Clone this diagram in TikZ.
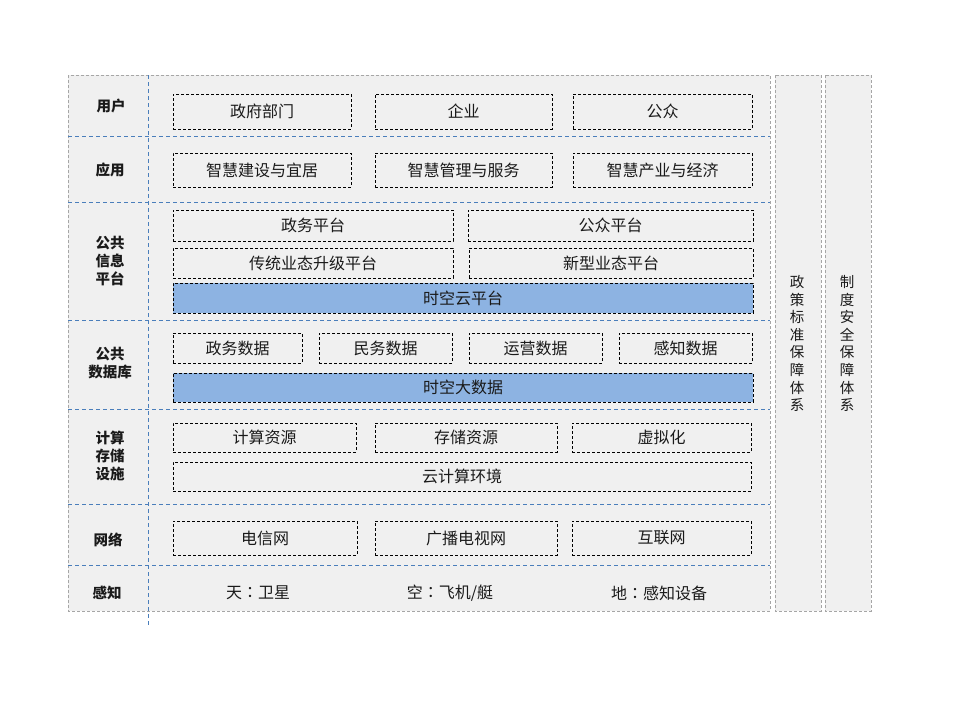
\documentclass[tikz,border=0pt]{standalone}
\usepackage{fontspec}
\setmainfont{Noto Sans CJK SC}
\newfontfamily\tcfont{Noto Sans CJK TC}
\definecolor{panelgray}{HTML}{F0F0F0}
\definecolor{bordergray}{HTML}{A6A6A6}
\definecolor{sepblue}{HTML}{4A7EBB}
\definecolor{bluefill}{HTML}{8DB3E2}
\definecolor{txt}{HTML}{1A1A1A}
\newcommand{\ccolon}{{\tcfont ：}}
\begin{document}
\begin{tikzpicture}[x=1pt,y=-1pt,
  panel/.style={fill=panelgray,draw=bordergray,line width=0.8pt,dash pattern=on 3pt off 2pt},
  sep/.style={draw=sepblue,line width=0.8pt,dash pattern=on 4pt off 3pt},
  box/.style={draw=black,line width=0.8pt,dash pattern=on 3pt off 2pt,inner sep=0pt,
    text=txt,font=\fontsize{16}{18}\selectfont},
  bluebox/.style={box,fill=bluefill},
  lab/.style={inner sep=0pt,align=center,text=txt,font=\fontsize{14.5}{18}\selectfont\bfseries},
  vlab/.style={inner sep=0pt,align=center,text=txt,font=\fontsize{14.5}{17.6}\selectfont},
  plain/.style={inner sep=0pt,text=txt,font=\fontsize{16}{18}\selectfont}]
\useasboundingbox (0,0) rectangle (960,720);
% panels
\path[panel] (68,75) rectangle (770,611);
\path[panel] (775,75) rectangle (821,611);
\path[panel] (825,75) rectangle (871,611);
% separators
\foreach \yy in {136,202,320,409,504,565} \draw[sep] (68,\yy) -- (770,\yy);
\coordinate (vt) at (148,75);
\coordinate (vb) at (148,627);
\draw[sep] (vt) -- (vb);
% left labels
\node[lab] (lu) at (111,106) {用户};
\node[lab] (la) at (110,170) {应用};
\node[lab] (lp) at (110,261) {公共\\信息\\平台};
\node[lab] (ld) at (110,363) {公共\\数据库};
\node[lab] (lc) at (110,456) {计算\\存储\\设施};
\node[lab] (ln) at (108,540) {网络};
\node[lab] (ls) at (107,593) {感知};
% users
\node[box,minimum width=178pt,minimum height=35pt] (u1) at (262,111.5) {政府部门};
\node[box,minimum width=177pt,minimum height=35pt] (u2) at (463.5,111.5) {企业};
\node[box,minimum width=179pt,minimum height=35pt] (u3) at (662.5,111.5) {公众};
% applications
\node[box,minimum width=178pt,minimum height=34pt] (a1) at (262,170) {智慧建设与宜居};
\node[box,minimum width=177pt,minimum height=34pt] (a2) at (463.5,170) {智慧管理与服务};
\node[box,minimum width=179pt,minimum height=34pt] (a3) at (662.5,170) {智慧产业与经济};
% platform
\node[box,minimum width=280pt,minimum height=31pt] (p1) at (313,225.5) {政务平台};
\node[box,minimum width=285pt,minimum height=31pt] (p2) at (610.5,225.5) {公众平台};
\node[box,minimum width=280pt,minimum height=30pt] (p3) at (313,263) {传统业态升级平台};
\node[box,minimum width=284pt,minimum height=30pt] (p4) at (611,263) {新型业态平台};
\node[bluebox,minimum width=580pt,minimum height=30pt] (p5) at (463,298) {时空云平台};
% data
\node[box,minimum width=129pt,minimum height=30pt] (d1) at (237.5,348) {政务数据};
\node[box,minimum width=133pt,minimum height=30pt] (d2) at (385.5,348) {民务数据};
\node[box,minimum width=133pt,minimum height=30pt] (d3) at (535.5,348) {运营数据};
\node[box,minimum width=133pt,minimum height=30pt] (d4) at (685.5,348) {感知数据};
\node[bluebox,minimum width=580pt,minimum height=29pt] (d5) at (463,387.5) {时空大数据};
% compute
\node[box,minimum width=183pt,minimum height=29pt] (c1) at (264.5,437.5) {计算资源};
\node[box,minimum width=182pt,minimum height=29pt] (c2) at (466,437.5) {存储资源};
\node[box,minimum width=179pt,minimum height=29pt] (c3) at (661.5,437.5) {虚拟化};
\node[box,minimum width=578pt,minimum height=29pt] (c4) at (462,476.5) {云计算环境};
% network
\node[box,minimum width=184pt,minimum height=34pt] (n1) at (265,538) {电信网};
\node[box,minimum width=182pt,minimum height=34pt] (n2) at (466,538) {广播电视网};
\node[box,minimum width=179pt,minimum height=34pt] (n3) at (661.5,538) {互联网};
% sensing
\node[plain] (s1) at (258,593) {天\ccolon 卫星};
\node[plain] (s2) at (450,593) {空\ccolon 飞机/艇};
\node[plain] (s3) at (659,593) {地\ccolon 感知设备};
% right columns
\node[vlab] (r1) at (797,343.5) {政\\策\\标\\准\\保\\障\\体\\系};
\node[vlab] (r2) at (847,343.5) {制\\度\\安\\全\\保\\障\\体\\系};
\end{tikzpicture}
\end{document}
